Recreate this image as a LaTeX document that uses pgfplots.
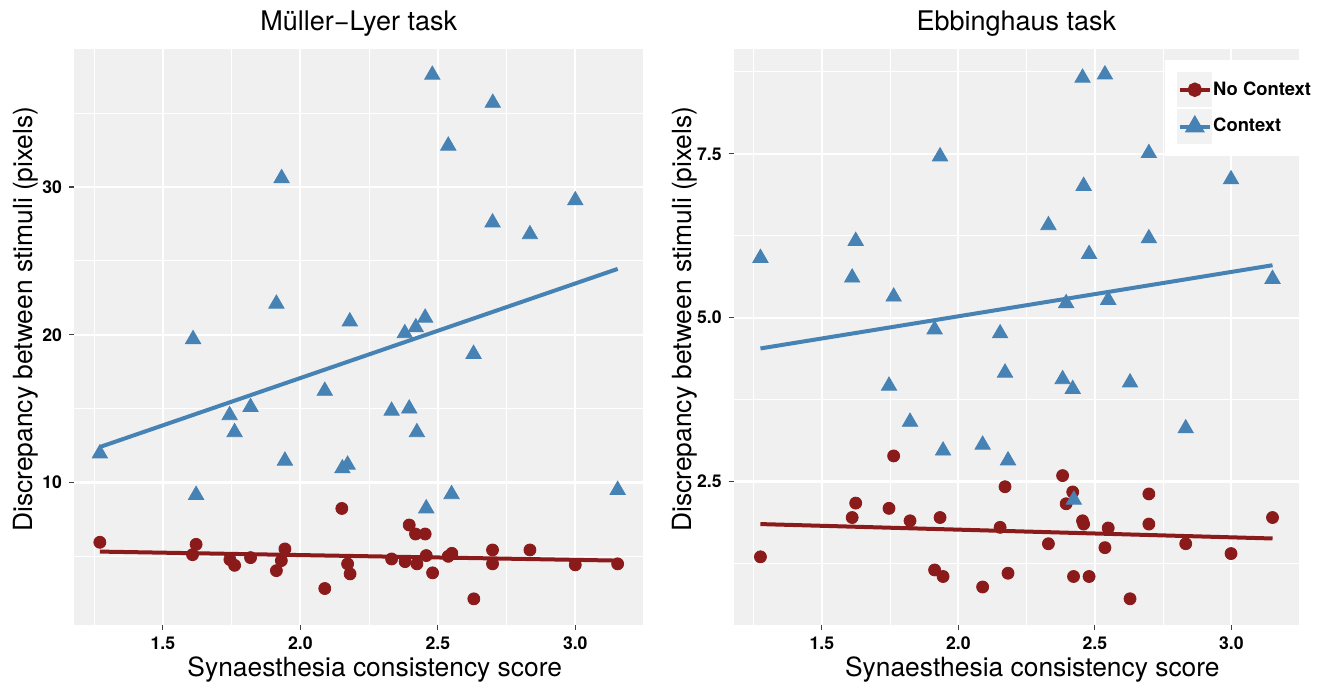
\documentclass[border=0pt]{standalone}
\usepackage{fontspec}
\setmainfont{TeX Gyre Heros}
\usepackage{pgfplots}
\pgfplotsset{compat=1.18}
\definecolor{bgc}{HTML}{F0F0F0}
\definecolor{keybg}{HTML}{F2F2F2}
\definecolor{ncred}{HTML}{8B1A1A}
\definecolor{cblue}{HTML}{4682B4}

\pgfplotsset{
  gg/.style={
    scale only axis, height=288pt,
    axis background/.style={fill=bgc},
    axis line style={draw=none},
    tick align=outside, xtick pos=bottom, ytick pos=left,
    major tick length=2.5pt, minor tick length=0pt,
    major tick style={black!75, line width=0.6pt},
    grid=both,
    major grid style={white, line width=1.1pt},
    minor grid style={white, line width=0.5pt},
    xmin=1.177, xmax=3.248,
    xtick={1.5,2.0,2.5,3.0}, xticklabels={1.5,2.0,2.5,3.0},
    minor xtick={1.25,1.75,2.25,2.75,3.25},
    ticklabel style={font=\fontsize{8.8}{10}\selectfont\bfseries},
    /pgf/number format/assume math mode=true,
    label style={font=\fontsize{13.2}{15}\selectfont},
    title style={font=\fontsize{13.5}{15}\selectfont, at={(axis description cs:0.5,1)}, anchor=base, yshift=3pt},
    xlabel={Synaesthesia consistency score},
    xlabel style={at={(axis description cs:0.5,0)}, anchor=base, yshift=-26pt, xshift=8pt},
    ylabel={Discrepancy between stimuli (pixels)},
    pts/.style={only marks, mark=*, mark size=3pt, color=ncred},
    tri/.style={only marks, mark=triangle*, mark size=4.4pt, color=cblue},
  }
}

\begin{document}
\begin{tikzpicture}
\path[use as bounding box] (0,0) rectangle (662pt,341.5pt);

\begin{axis}[gg, at={(37pt,29pt)}, anchor=south west, width=284.75pt,
  title={Müller−Lyer task},
  ymin=0.35, ymax=39.35,
  ytick={10,20,30}, minor ytick={5,15,25,35},
  ylabel style={at={(axis description cs:-0.072,0.531)}, anchor=base},
]
\addplot[pts] coordinates {
(1.271,5.95) (1.621,5.81) (1.608,5.11) (1.744,4.78) (1.761,4.39) (1.819,4.91)
(1.944,5.50) (1.931,4.71) (1.913,4.03) (2.151,8.24) (2.172,4.49) (2.181,3.81)
(2.089,2.82) (2.332,4.82) (2.381,4.64) (2.396,7.12) (2.419,6.51) (2.454,6.51)
(2.458,5.05) (2.424,4.49) (2.481,3.88) (2.538,5.00) (2.551,5.20) (2.631,2.12)
(2.699,5.43) (2.699,4.49) (2.835,5.43) (3.000,4.42) (3.154,4.49)
};
\addplot[tri] coordinates {
(2.480,37.6) (2.700,35.7) (2.538,32.8) (1.932,30.6) (3.000,29.1) (2.699,27.6)
(2.835,26.8) (1.913,22.1) (2.180,20.9) (2.454,21.15) (2.420,20.5) (2.380,20.1)
(1.610,19.7) (2.630,18.7) (2.089,16.2) (1.819,15.1) (1.743,14.55) (2.332,14.85)
(2.396,15.0) (1.761,13.4) (2.424,13.4) (1.271,11.96) (1.944,11.47) (2.172,11.2)
(2.153,10.95) (1.621,9.15) (2.550,9.2) (2.458,8.24) (3.154,9.49)
};
\addplot[ncred, line width=2pt] coordinates {(1.271,5.32) (3.154,4.71)};
\addplot[cblue, line width=2pt] coordinates {(1.271,12.4) (3.154,24.46)};
\end{axis}

\begin{axis}[gg, at={(366.85pt,29pt)}, anchor=south west, width=282.65pt,
  title={Ebbinghaus task},
  ymin=0.31, ymax=9.1,
  ytick={2.5,5.0,7.5}, yticklabels={2.5,5.0,7.5},
  minor ytick={1.25,3.75,6.25,8.75},
  ylabel style={at={(axis description cs:-0.0743,0.531)}, anchor=base},
  legend style={at={(axis description cs:0.763,0.981)}, anchor=north west,
    fill=white, draw=none, inner xsep=6pt, inner ysep=6pt,
    font=\fontsize{9.2}{11}\selectfont\bfseries,
    row sep=1pt, column sep=0.5pt,
    nodes={inner sep=0pt}},
  legend cell align=left,
  legend image code/.code={
    \fill[keybg] (0pt,-8.5pt) rectangle (17pt,8.5pt);
    \draw[mark repeat=2, mark phase=2, line width=2pt, #1]
      plot coordinates {(1pt,0pt) (8.5pt,0pt) (16pt,0pt)};
  },
]
\addplot[pts, forget plot] coordinates {
(1.275,1.35) (1.763,2.89) (1.624,2.17) (1.611,1.95) (1.746,2.09) (1.823,1.90)
(1.933,1.95) (1.913,1.15) (1.944,1.05) (2.089,0.89) (2.171,2.42) (2.153,1.80)
(2.182,1.10) (2.330,1.55) (2.382,2.59) (2.419,2.34) (2.395,2.16) (2.455,1.90)
(2.459,1.85) (2.422,1.05) (2.479,1.05) (2.549,1.79) (2.537,1.49) (2.629,0.71)
(2.698,2.31) (2.698,1.85) (2.833,1.55) (2.999,1.40) (3.151,1.95)
};
\addplot[tri, forget plot] coordinates {
(2.455,8.66) (2.537,8.71) (1.933,7.46) (2.698,7.51) (2.999,7.11) (2.459,7.01)
(2.330,6.41) (1.624,6.17) (2.698,6.21) (2.479,5.97) (1.275,5.91) (1.611,5.61)
(3.151,5.59) (1.763,5.32) (2.395,5.22) (2.549,5.27) (1.913,4.82) (2.153,4.76)
(2.171,4.16) (2.382,4.06) (2.419,3.91) (2.629,4.01) (1.746,3.96) (1.823,3.41)
(2.833,3.31) (2.089,3.06) (1.944,2.97) (2.182,2.82) (2.423,2.22)
};
\addplot[ncred, line width=2pt, forget plot] coordinates {(1.275,1.85) (3.151,1.63)};
\addplot[cblue, line width=2pt, forget plot] coordinates {(1.275,4.53) (3.151,5.80)};
\addlegendimage{ncred, mark=*, mark size=2.6pt, mark options={solid}}
\addlegendentry{No Context}
\addlegendimage{cblue, mark=triangle*, mark size=3.8pt}
\addlegendentry{Context}
\end{axis}
\end{tikzpicture}
\end{document}
